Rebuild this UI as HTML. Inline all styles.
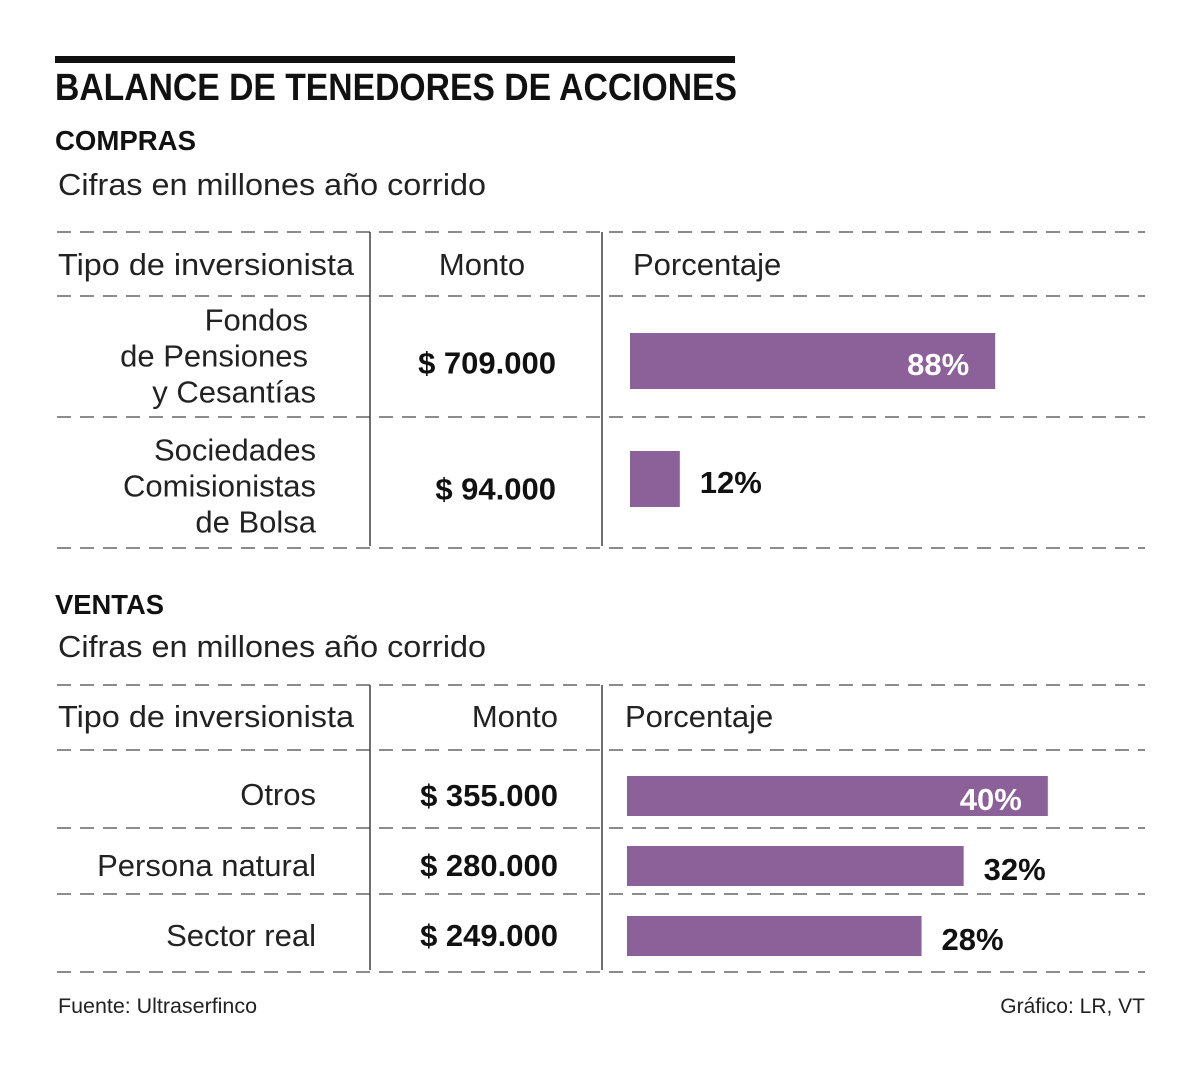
<!DOCTYPE html>
<html><head><meta charset="utf-8"><style>
html,body{margin:0;padding:0;background:#fff;}
svg{display:block;font-family:"Liberation Sans",sans-serif;}
.l{font-weight:normal;fill:#222;}
.b{font-weight:bold;fill:#111;}
</style></head><body>
<svg id="c" width="1200" height="1067" viewBox="0 0 1200 1067">
<rect x="55" y="56" width="680" height="7" fill="#111"/>
<text x="55" y="100" class="b" font-size="38" textLength="682" lengthAdjust="spacingAndGlyphs">BALANCE DE TENEDORES DE ACCIONES</text>
<text x="55" y="150" class="b" font-size="28" textLength="141" lengthAdjust="spacingAndGlyphs">COMPRAS</text>
<text x="58" y="195" class="l" font-size="31" textLength="428" lengthAdjust="spacingAndGlyphs">Cifras en millones año corrido</text>
<text x="55" y="614" class="b" font-size="28" textLength="109" lengthAdjust="spacingAndGlyphs">VENTAS</text>
<text x="58" y="657" class="l" font-size="31" textLength="428" lengthAdjust="spacingAndGlyphs">Cifras en millones año corrido</text>
<text x="58" y="1013" class="l" font-size="21" textLength="199" lengthAdjust="spacingAndGlyphs">Fuente: Ultraserfinco</text>
<text x="1145" y="1013" class="l" font-size="21" text-anchor="end">Gráfico: LR, VT</text>
<g id="g"></g>
</svg>
<script>
const comprasCategories = [["Fondos","de Pensiones","y Cesantías"],["Sociedades","Comisionistas","de Bolsa"]];
const comprasMontos = ["$ 709.000","$ 94.000"];
const comprasPct = [88, 12];
const ventasCategories = [["Otros"],["Persona natural"],["Sector real"]];
const ventasMontos = ["$ 355.000","$ 280.000","$ 249.000"];
const ventasPct = [40, 32, 28];

const NS="http://www.w3.org/2000/svg";
const g=document.getElementById('g');
function mk(tag,attrs,txt){const e=document.createElementNS(NS,tag);for(const k in attrs)e.setAttribute(k,attrs[k]);if(txt!==undefined)e.textContent=txt;g.appendChild(e);return e;}
function hdash(y){const e=mk('line',{x1:57,x2:1145,y1:y,y2:y,stroke:'#666','stroke-width':1.6,'stroke-dasharray':'14 9'});

}
function vline(x,y1,y2){const e=mk('line',{x1:x,x2:x,y1:y1,y2:y2,stroke:'#333','stroke-width':1.4});

}

function table(o){
  o.lines.forEach(hdash);
  vline(370,o.lines[0],o.lines[o.lines.length-1]-2);
  vline(602,o.lines[0],o.lines[o.lines.length-1]-2);
  let t=mk('text',{x:58,y:o.hy,class:'l','font-size':31,textLength:296,lengthAdjust:'spacingAndGlyphs'},'Tipo de inversionista');
  
  
  t=mk('text',{x:o.montoHx,y:o.hy,class:'l','font-size':31,'text-anchor':o.montoHanchor},'Monto');
  
  
  t=mk('text',{x:o.pctHx,y:o.hy,class:'l','font-size':31},'Porcentaje');
  
  
  o.cats.forEach((cat,i)=>{
    const top=o.lines[i+1], bot=o.lines[i+2], mid=(top+bot)/2;
    const n=cat.length;
    cat.forEach((ln,j)=>{
      const e=mk('text',{x:o.catX[i]?o.catX[i][j]:316,y:mid+o.catDy[i]+(j-(n-1)/2)*36,class:'l','font-size':31,'text-anchor':'end'},ln);
      
      
    });
    const m=mk('text',{x:o.montoX,y:mid+o.montoDy[i],class:'b','font-size':31,'text-anchor':'end'},o.montos[i]);
    
    
    const w=o.pct[i]*o.scale;
    const by=mid+o.barDy[i]-o.barH/2;
    const r=mk('rect',{x:o.bx,y:by,width:w,height:o.barH,fill:'#8c6199'});
    
    
    const inside=w>o.insideMin;
    const lbl=mk('text',{x:inside?o.bx+w-26:o.bx+w+20,y:by+o.barH/2+14,class:'b','font-size':31,'text-anchor':inside?'end':'start'},o.pct[i]+'%');
    if(inside)lbl.setAttribute('style','fill:#fff');
    
    
  });
}
table({lines:[232,296,417,548],hy:275,montoHx:482,montoHanchor:'middle',pctHx:633,
  cats:comprasCategories,catX:[[308,308,316],[316,316,316]],catDy:[10,14],montos:comprasMontos,montoX:556,montoDy:[17,17],
  pct:comprasPct,scale:4.15,bx:630,barH:56,barDy:[4.5,-3.5],insideMin:300});
table({lines:[685,750,828,894,972],hy:727,montoHx:558,montoHanchor:'end',pctHx:625,
  cats:ventasCategories,catX:[],catDy:[16,15,13],montos:ventasMontos,montoX:558,montoDy:[17,15,13],
  pct:ventasPct,scale:10.52,bx:627,barH:40,barDy:[7,5,3],insideMin:380});
</script>
</body></html>
